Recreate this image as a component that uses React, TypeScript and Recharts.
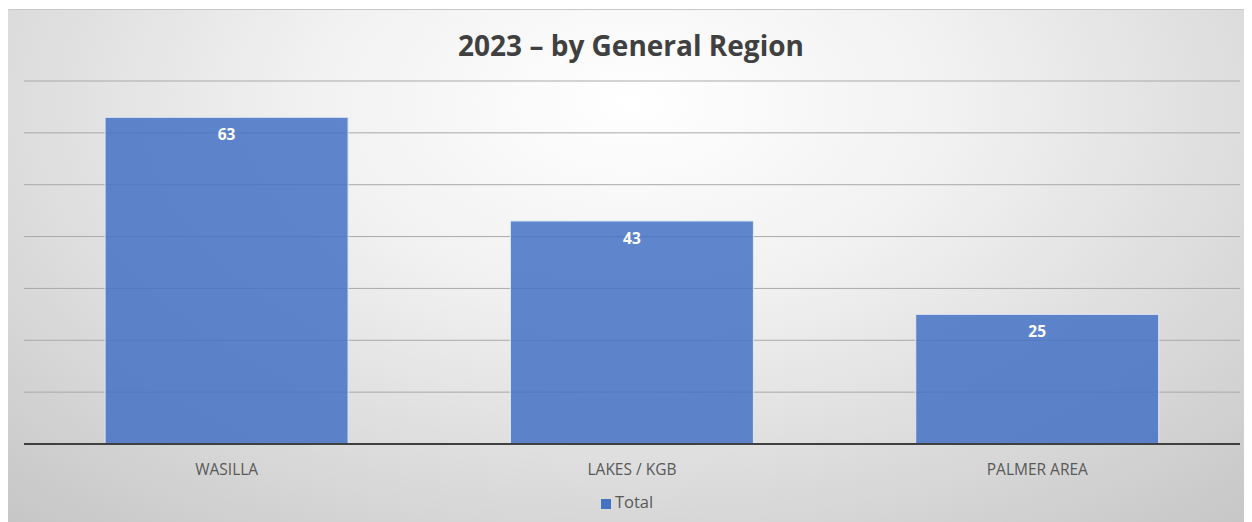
import { BarChart, Bar, XAxis, YAxis, CartesianGrid, Legend, LabelList } from "recharts"

const regions = ["WASILLA", "LAKES / KGB", "PALMER AREA"]
const totals = [63, 43, 25]
const yTicks = [0, 10, 20, 30, 40, 50, 60, 70]

const data = regions.map((region, i) => ({ region, Total: totals[i] }))

const FONT = "'Open Sans', 'Liberation Sans', sans-serif"

export default function App() {
  return (
    <div
      style={{
        position: "relative",
        width: 1246,
        height: 514,
        marginLeft: -1,
        marginTop: 1,
        borderTop: "1px solid #c8c8c8",
        borderLeft: "1px solid #c8c8c8",
        background:
          "radial-gradient(ellipse 75% 110% at 50% 18%, #ffffff 0%, #f1f1f1 35%, #dadada 70%, #c6c6c6 100%)",
        fontFamily: FONT,
      }}
    >
      <div
        style={{
          position: "absolute",
          top: 16,
          left: 0,
          width: "100%",
          textAlign: "center",
          fontSize: 28,
          fontWeight: 700,
          color: "#404040",
        }}
      >
        2023 – by General Region
      </div>
      <BarChart
        width={1246}
        height={514}
        data={data}
        margin={{ top: 71, right: 14, left: 16, bottom: 8 }}
        barCategoryGap="20%"
      >
        <CartesianGrid vertical={false} stroke="#a9a9a9" strokeWidth={1} />
        <YAxis hide domain={[0, 70]} ticks={yTicks} />
        <XAxis
          dataKey="region"
          tickLine={false}
          axisLine={{ stroke: "#404040", strokeWidth: 2 }}
          tick={{ fill: "#595959", fontSize: 15.5, fontFamily: FONT }}
          tickMargin={14}
          height={46}
        />
        <Legend
          verticalAlign="bottom"
          height={26}
          iconType="square"
          iconSize={10}
          formatter={(v: any) => <span style={{ color: "#595959", fontSize: 16.5 }}>{v}</span>}
        />
        <Bar
          dataKey="Total"
          fill="#4472C4"
          fillOpacity={0.85}
          stroke="#dfe8f6"
          strokeWidth={1}
          isAnimationActive={false}
        >
          <LabelList
            dataKey="Total"
            position="insideTop"
            offset={12}
            fill="#ffffff"
            fontSize={15.5}
            fontWeight={700}
            fontFamily={FONT}
          />
        </Bar>
      </BarChart>
    </div>
  )
}
